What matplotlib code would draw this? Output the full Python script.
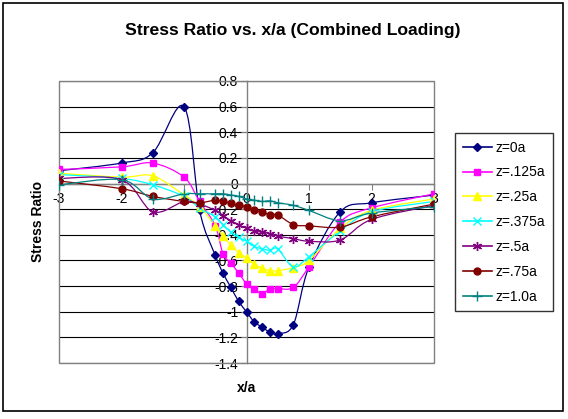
import numpy as np
import matplotlib
matplotlib.use("Agg")
import matplotlib.pyplot as plt
from matplotlib.path import Path
from matplotlib.patches import PathPatch, Rectangle
from matplotlib.lines import Line2D

plt.rcParams['font.family'] = ['Liberation Sans', 'DejaVu Sans']

# x/a positions (full grid) and the shorter grid used by some series
x_full = [-3, -2, -1.5, -1, -0.75, -0.5, -0.375, -0.25, -0.125, 0, 0.125,
          0.25, 0.375, 0.5, 0.75, 1, 1.5, 2, 3]

z0 = [0.10, 0.16, 0.24, 0.60, -0.21, -0.56, -0.70, -0.81, -0.92, -1.00, -1.08,
      -1.12, -1.16, -1.17, -1.10, -0.65, -0.22, -0.15, -0.09]
z0125 = [0.11, 0.13, 0.16, 0.05, -0.14, -0.33, -0.55, -0.62, -0.70, -0.78, -0.82,
         -0.86, -0.82, -0.82, -0.81, -0.65, -0.30, -0.19, -0.08]
z025 = [0.08, 0.05, 0.06, -0.09, -0.18, -0.33, -0.41, -0.48, -0.54, -0.58, -0.63,
        -0.66, -0.68, -0.68, -0.655, -0.60, -0.35, -0.21, -0.12]
z0375 = [0.07, 0.04, -0.01, -0.10, -0.19, -0.26, -0.32, -0.38, -0.42, -0.45, -0.49,
         -0.51, -0.52, -0.51, -0.65, -0.57, -0.37, -0.22, -0.14]
z05 = [0.04, 0.03, -0.22, -0.14, -0.16, -0.21, -0.25, -0.29, -0.32, -0.35, -0.37,
       -0.38, -0.39, -0.41, -0.43, -0.45, -0.44, -0.28, -0.17]
z075 = [0.02, -0.04, -0.10, -0.14, -0.15, -0.13, -0.14, -0.155, -0.17, -0.18, -0.21,
        -0.22, -0.245, -0.245, -0.32, -0.33, -0.34, -0.26, -0.16]
z10 = [-0.01, 0.03, -0.12, -0.08, -0.08, -0.08, -0.08, -0.09, -0.10, -0.12, -0.13,
       -0.14, -0.135, -0.15, -0.17, -0.21, -0.29, -0.23, -0.18]

labels = ['z=0a', 'z=.125a', 'z=.25a', 'z=.375a', 'z=.5a', 'z=.75a', 'z=1.0a']
series = [z0, z0125, z025, z0375, z05, z075, z10]
colors = ['#000080', '#FF00FF', '#FFFF00', '#00FFFF', '#800080', '#800000', '#008080']
markers = ['D', 's', '^', 'x', (6, 2, 0), 'o', '+']
msizes = [4.5, 5, 5.5, 5.5, 6.5, 5, 6.5]

x_ticks = [-3, -2, -1, 0, 1, 2, 3]
y_ticks = [0.8, 0.6, 0.4, 0.2, 0, -0.2, -0.4, -0.6, -0.8, -1, -1.2, -1.4]


def smooth_path(xs, ys):
    # Excel-style smoothed line: cubic Bezier through each point
    pts = np.column_stack([xs, ys]).astype(float)
    n = len(pts)
    verts = [pts[0]]
    codes = [Path.MOVETO]
    for i in range(n - 1):
        p0 = pts[i - 1] if i > 0 else pts[i]
        p1 = pts[i]
        p2 = pts[i + 1]
        p3 = pts[i + 2] if i + 2 < n else pts[i + 1]
        verts += [p1 + (p2 - p0) / 6, p2 - (p3 - p1) / 6, p2]
        codes += [Path.CURVE4] * 3
    return Path(verts, codes)


fig = plt.figure(figsize=(5.68, 4.19), dpi=100)
ax = fig.add_axes([59 / 568, 1 - 363 / 419, 375 / 568, 282 / 419])

handles = []
for ys, lab, c, m, ms in zip(series, labels, colors, markers, msizes):
    ax.add_patch(PathPatch(smooth_path(x_full, ys), facecolor='none',
                           edgecolor=c, lw=0.9, zorder=3))
    ax.plot(x_full, ys, ls='none', marker=m, color=c, ms=ms, mew=1.0, zorder=4)
    handles.append(Line2D([], [], color=c, lw=1.2, marker=m, ms=ms, mew=1.0))

ax.set_xlim(-3, 3)
ax.set_ylim(-1.4, 0.8)
ax.set_xticks(x_ticks)
ax.set_xticklabels([str(v) for v in x_ticks])
ax.set_yticks(y_ticks)
ax.set_yticklabels(['0.8', '0.6', '0.4', '0.2', '0', '-0.2', '-0.4', '-0.6',
                    '-0.8', '-1', '-1.2', '-1.4'])
ax.tick_params(labelsize=10, length=4, width=0.8, color='#808080', pad=2)

ax.yaxis.grid(True, color='black', lw=0.8)
ax.set_axisbelow(True)

for s in ['left', 'bottom']:
    ax.spines[s].set_position(('data', 0))
    ax.spines[s].set_color('#808080')
    ax.spines[s].set_linewidth(1.0)
for s in ['top', 'right']:
    ax.spines[s].set_visible(False)
ax.add_patch(Rectangle((0, 0), 1, 1, transform=ax.transAxes, fill=False,
                       edgecolor='#808080', lw=1.0, zorder=1, clip_on=False))

fig.text(293 / 568, 1 - 30 / 419, 'Stress Ratio vs. x/a (Combined Loading)',
         ha='center', va='center', fontsize=12.6, fontweight='bold')
fig.text(247 / 568, 1 - 388 / 419, 'x/a', ha='center', va='center',
         fontsize=10, fontweight='bold')
fig.text(38 / 568, 1 - 222 / 419, 'Stress Ratio', ha='center', va='center',
         rotation=90, fontsize=10, fontweight='bold')

leg = fig.legend(handles, labels, loc='upper left',
                 bbox_to_anchor=(455 / 568, 1 - 133 / 419), fontsize=10,
                 frameon=True, fancybox=False, edgecolor='black',
                 labelspacing=0.78, handlelength=2.1, handletextpad=0.3,
                 borderpad=0.55, borderaxespad=0)
leg.get_frame().set_linewidth(1.0)

fig.add_artist(Rectangle((3 / 568, 1 - 411 / 419), 560 / 568, 408 / 419,
                         transform=fig.transFigure, fill=False,
                         edgecolor='black', lw=1.2))

fig.savefig('out.png', dpi=100)
